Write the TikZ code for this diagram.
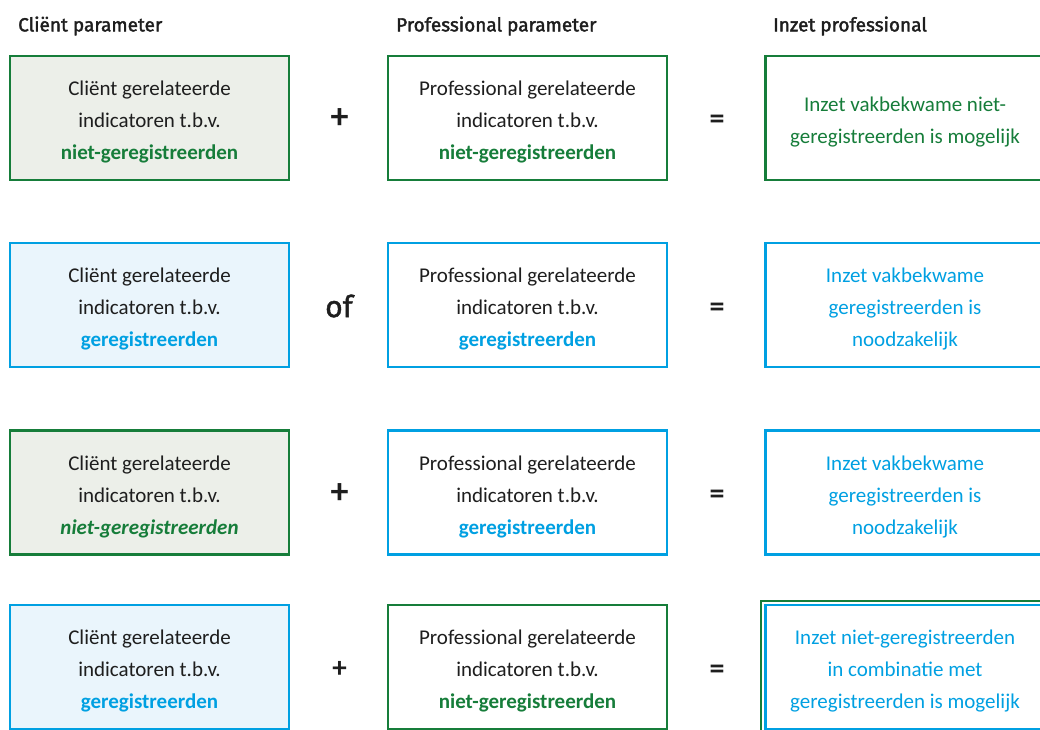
\documentclass[tikz,border=0pt]{standalone}
\usepackage{fontspec}
\setmainfont{Carlito}
\newfontfamily\hdrfont[FakeBold=2]{Fira Sans}
\newfontfamily\opfont[FakeBold=1.5]{Fira Sans}
\usetikzlibrary{fit}
\definecolor{vgreen}{RGB}{22,125,58}
\definecolor{vblue}{RGB}{0,160,226}
\definecolor{fgreen}{RGB}{236,239,233}
\definecolor{fblue}{RGB}{234,245,252}
\definecolor{ink}{RGB}{30,30,30}
\tikzset{
  box/.style={line width=2.6pt, minimum width=279pt, minimum height=124pt, inner sep=0pt},
  gbox/.style={box, draw=vgreen},
  bbox/.style={box, draw=vblue},
  txt/.style={align=center, inner sep=0pt, yshift=-4pt, font=\fontsize{21}{32}\selectfont},
  hdr/.style={anchor=west, text=ink, font=\hdrfont\fontsize{19}{20}\selectfont, inner sep=0pt},
  op/.style={text=ink, font=\fontsize{36}{36}\selectfont\bfseries, inner sep=0pt},
  opthin/.style={text=ink, font=\fontsize{29}{29}\selectfont\bfseries, inner sep=0pt},
  eq/.style={text=ink, font=\fontsize{30}{30}\selectfont\bfseries, inner sep=0pt},
  ofop/.style={text=ink, font=\opfont\fontsize{30}{30}\selectfont, inner sep=0pt},
}
\newcommand{\gw}[1]{\textcolor{vgreen}{\textbf{#1}}}
\newcommand{\bw}[1]{\textcolor{vblue}{\textbf{#1}}}
% \bx{box style}{text colour}{name}{position}{text}
\newcommand{\bx}[5]{\node[#1, label={[txt, text=#2]center:{#5}}] (#3) at (#4) {};}
\begin{document}
\begin{tikzpicture}[x=1pt,y=-1pt]
\useasboundingbox (0,0) rectangle (1040,729);
\clip (0,0) rectangle (1040,729);
% headers
\node[hdr] (h1) at (18,26) {Cliënt parameter};
\node[hdr] (h2) at (396,26) {Professional parameter};
\node[hdr] (h3) at (773,26) {Inzet professional};
% row 1
\bx{gbox, fill=fgreen}{ink}{r1c1}{149.5,118}{Cliënt gerelateerde\\indicatoren t.b.v.\\\gw{niet-geregistreerden}}
\node[op] (o11) at (339.5,119) {+};
\bx{gbox, fill=white}{ink}{r1c2}{527.5,118}{Professional gerelateerde\\indicatoren t.b.v.\\\gw{niet-geregistreerden}}
\node[eq] (o12) at (717,122) {=};
\bx{gbox, fill=white}{vgreen}{r1c3}{905,118}{Inzet vakbekwame niet-\\geregistreerden is mogelijk}
% row 2
\bx{bbox, fill=fblue}{ink}{r2c1}{149.5,305}{Cliënt gerelateerde\\indicatoren t.b.v.\\\bw{geregistreerden}}
\node[ofop] (o21) at (339,306) {of};
\bx{bbox, fill=white}{ink}{r2c2}{527.5,305}{Professional gerelateerde\\indicatoren t.b.v.\\\bw{geregistreerden}}
\node[eq] (o22) at (717,310) {=};
\bx{bbox, fill=white}{vblue}{r2c3}{905,305}{Inzet vakbekwame\\geregistreerden is\\noodzakelijk}
% row 3
\bx{gbox, fill=fgreen}{ink}{r3c1}{149.5,492.5}{Cliënt gerelateerde\\indicatoren t.b.v.\\\textcolor{vgreen}{\textbf{\textit{niet-geregistreerden}}}}
\node[op] (o31) at (339.5,494) {+};
\bx{bbox, fill=white}{ink}{r3c2}{527.5,492.5}{Professional gerelateerde\\indicatoren t.b.v.\\\bw{geregistreerden}}
\node[eq] (o32) at (717,497) {=};
\bx{bbox, fill=white}{vblue}{r3c3}{905,492.5}{Inzet vakbekwame\\geregistreerden is\\noodzakelijk}
% row 4
\bx{bbox, fill=fblue}{ink}{r4c1}{149.5,667}{Cliënt gerelateerde\\indicatoren t.b.v.\\\bw{geregistreerden}}
\node[opthin] (o41) at (339.5,669) {+};
\bx{gbox, fill=white}{ink}{r4c2}{527.5,667}{Professional gerelateerde\\indicatoren t.b.v.\\\gw{niet-geregistreerden}}
\node[eq] (o42) at (717,672) {=};
\bx{bbox, fill=white}{vblue}{r4c3}{905,667}{Inzet niet-geregistreerden\\in combinatie met\\geregistreerden is mogelijk}
\node[draw=vgreen, line width=2pt, inner sep=3.2pt, fit=(r4c3)] (r4c3o) {};
\end{tikzpicture}
\end{document}
